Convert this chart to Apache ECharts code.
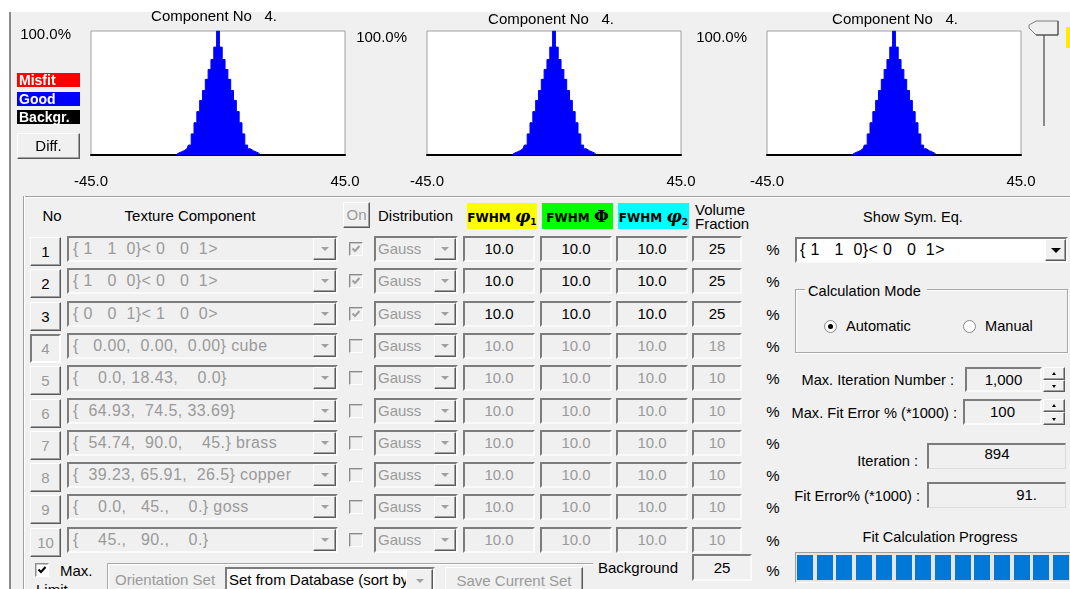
<!DOCTYPE html>
<html><head><meta charset="utf-8">
<script src="https://cdn.jsdelivr.net/npm/echarts/dist/echarts.min.js"></script>
<style>
html,body{margin:0;padding:0;}
body{width:1070px;height:589px;overflow:hidden;background:#f0f0f0;position:relative;font-family:"Liberation Sans",Arial,sans-serif;font-size:15px;color:#000;}
.a{position:absolute;box-sizing:border-box;white-space:pre;}
.sunk{border:2px solid;border-color:#7c7c7c #fafafa #fafafa #7c7c7c;background:#f0f0f0;}
.raised{border:1px solid;border-color:#ffffff #5a5a5a #5a5a5a #ffffff;box-shadow:inset -1px -1px 0 #a0a0a0;background:#f0f0f0;}
.pressed{border:2px solid;border-color:#7c7c7c #ffffff #ffffff #7c7c7c;background:#f0f0f0;}
.gray{color:#9a9a9a;}
.tc{text-align:center;}
.combo{font-size:16px;letter-spacing:0.4px;}
.rp{font-size:14.6px;}
.dd::after{content:"";position:absolute;left:50%;top:50%;margin-left:-4px;margin-top:-2px;border-left:4px solid transparent;border-right:4px solid transparent;border-top:4px solid #a0a0a0;}
.dd.blk::after{border-left-width:5px;border-right-width:5px;border-top:5px solid #000;margin-left:-5px;}
.up::after{content:"";position:absolute;left:50%;top:50%;margin-left:-2px;margin-top:-2px;border-left:2px solid transparent;border-right:2px solid transparent;border-bottom:3px solid #000;}
.dn::after{content:"";position:absolute;left:50%;top:50%;margin-left:-2px;margin-top:-1px;border-left:2px solid transparent;border-right:2px solid transparent;border-top:3px solid #000;}
.cb{border:1px solid;border-color:#8a8a8a #ffffff #ffffff #8a8a8a;box-shadow:inset 1px 1px 0 #c8c8c8;background:#f0f0f0;}
.radio{border-radius:50%;border:1px solid #8a8a8a;background:#fff;}
.fw{font-family:"DejaVu Sans",sans-serif;font-weight:bold;font-size:12px;line-height:26px;text-align:center;}
.fw span{font-family:"DejaVu Serif",serif;font-style:italic;font-size:17px;}
.fw sub{font-size:9px;}
</style></head>
<body>
<div class="a" style="left:0;top:0;width:1070px;height:12px;background:#fff"></div>
<div class="a" style="left:0;top:0;width:9px;height:589px;background:#fff"></div>
<div class="a" style="left:9px;top:12px;width:2px;height:577px;background:#8a8a8a"></div>
<div id="chart" class="a" style="left:0;top:0;width:1070px;height:195px;"></div>
<div id="ui"></div>
<script>
// ---------- chart data ----------
const histAngles = [-15,-14,-13,-12,-11,-10,-9,-8,-7,-6,-5,-4,-3,-2,-1,0,1,2,3,4,5,6,7,8,9,10,11,12,13,14,15];
const histValues = [0,1.5,2.5,3.5,5,8,17,26,35,44,52,61,69,77,87,100,87,77,69,61,52,44,35,26,17,8,5,3.5,2.5,1.5,0];
const panelTitles = ['Component No   4.','Component No   4.','Component No   4.'];
const xTickValues = [-45, 45];
const yTickValues = [100];

// ---------- table data ----------
const compNames = ['{ 1   1  0}< 0   0  1>','{ 1   0  0}< 0   0  1>','{ 0   0  1}< 1   0  0>',
 '{   0.00,  0.00,  0.00} cube','{    0.0, 18.43,    0.0}','{  64.93,  74.5, 33.69}',
 '{  54.74,  90.0,    45.} brass','{  39.23, 65.91,  26.5} copper','{    0.0,   45.,    0.} goss','{    45.,   90.,    0.}'];
const fwhmPhi1 = ['10.0','10.0','10.0','10.0','10.0','10.0','10.0','10.0','10.0','10.0'];
const fwhmPhi  = ['10.0','10.0','10.0','10.0','10.0','10.0','10.0','10.0','10.0','10.0'];
const fwhmPhi2 = ['10.0','10.0','10.0','10.0','10.0','10.0','10.0','10.0','10.0','10.0'];
const volFrac = ['25','25','25','18','10','10','10','10','10','10'];

const FF = '"Liberation Sans", Arial, sans-serif';
const gridLefts = [91, 427, 767];
const titleXs = [214, 551, 895];
const titleYs = [9, 12, 12];
const labelLH = [7, 13, 13];

const chart = echarts.init(document.getElementById('chart'), null, {renderer:'canvas'});
chart.setOption({
  animation:false,
  graphic: panelTitles.map((t,i)=>({type:'text', x:titleXs[i], y:titleYs[i], silent:true,
    style:{text:t, align:'center', verticalAlign:'top', fontSize:15, fontFamily:FF, fill:'#000'}})),
  grid: gridLefts.map(l=>({left:l, top:31, width:254, height:124, show:true, backgroundColor:'#fff', borderColor:'#a0a0a0', borderWidth:1})),
  xAxis: gridLefts.map((l,i)=>({type:'value', gridIndex:i, min:-45, max:45,
    axisLine:{show:true, onZero:false, lineStyle:{color:'#000', width:2}},
    axisTick:{show:false}, splitLine:{show:false},
    axisLabel:{customValues:xTickValues, formatter:v=>v.toFixed(1), margin:19, fontSize:15, fontFamily:FF, color:'#000'}})),
  yAxis: gridLefts.map((l,i)=>({type:'value', gridIndex:i, min:0, max:100,
    axisLine:{show:false}, axisTick:{show:false}, splitLine:{show:false},
    axisLabel:{customValues:yTickValues, formatter:v=>v.toFixed(1)+'%', margin:20, fontSize:15, fontFamily:FF, color:'#000', verticalAlign:'top', lineHeight:labelLH[i]}})),
  series: gridLefts.map((l,i)=>({type:'line', xAxisIndex:i, yAxisIndex:i, step:'middle', symbol:'none', silent:true,
    data: histAngles.map((a,k)=>[a, histValues[k]]),
    lineStyle:{color:'#0000ff', width:1}, areaStyle:{color:'#0000ff', opacity:1}}))
});

// ---------- UI ----------
const ui = document.getElementById('ui');
function el(x,y,w,h,cls,html,style){
  const d=document.createElement('div');
  d.className='a '+(cls||'');
  d.style.left=x+'px'; d.style.top=y+'px';
  if(w!=null) d.style.width=w+'px';
  if(h!=null) d.style.height=h+'px';
  if(html!=null) d.innerHTML=html;
  if(style) d.style.cssText+=';'+style;
  ui.appendChild(d); return d;
}
function txt(x,cy,t,style,cls){ return el(x,cy-10,null,20,cls||'',t,'line-height:20px;'+(style||'')); }
function rtxt(rx,cy,t,style,cls){ return el(rx-300,cy-10,300,20,cls||'',t,'line-height:20px;text-align:right;'+(style||'')); }
function ctxt(cx,cy,t,style,cls){ return el(cx-150,cy-10,300,20,'tc '+(cls||''),t,'line-height:20px;'+(style||'')); }
const checkSvg = c => `<svg width="12" height="12" style="position:absolute;left:0;top:0"><polyline points="2.5,5.5 5,8 9.5,3" fill="none" stroke="${c}" stroke-width="2"/></svg>`;

// legend boxes
el(17,73,63,14,'','Misfit','background:#ff0000;color:#fff;font-weight:bold;font-size:14px;line-height:14px;padding-left:2px');
el(17,92,63,14,'','Good','background:#0000ff;color:#fff;font-weight:bold;font-size:14px;line-height:14px;padding-left:2px');
el(17,110,63,14,'','Backgr.','background:#000;color:#fff;font-weight:bold;font-size:14px;line-height:14px;padding-left:2px');
el(17,133,63,26,'raised tc','Diff.','line-height:24px');

// slider
el(1043,35,2,91,'','', 'background:#8a8a8a');
el(1028,20,31,16,'','<svg width="31" height="16"><polygon points="1,5 8,1 30,1 30,15 8,15 1,8" fill="#f0f0f0" stroke="#7c7c7c" stroke-width="1"/><line x1="30" y1="1" x2="30" y2="15" stroke="#444"/><line x1="8" y1="15" x2="30" y2="15" stroke="#444"/></svg>');
el(1066,27,4,21,'','','background:#ffee00');

// group box
el(23,196,1047,2,'','', 'border-top:1px solid #a0a0a0;border-bottom:1px solid #fff');
el(23,196,2,393,'','', 'border-left:1px solid #a0a0a0;border-right:1px solid #fff');

// headers
ctxt(52,216,'No');
ctxt(190,216,'Texture Component');
el(343,202,27,26,'raised tc gray','On','line-height:24px');
txt(378,216,'Distribution');
el(467,203,70,26,'fw','FWHM <span>φ</span><sub>1</sub>','background:#ffff00');
el(542,203,71,26,'fw','FWHM <span style="font-style:normal">Φ</span>','background:#00ff00');
el(618,203,71,26,'fw','FWHM <span>φ</span><sub>2</sub>','background:#00ffff');
el(695,203,60,30,'','Volume\nFraction','line-height:14px;font-size:15px');

// rows
for(let i=0;i<10;i++){
  const top = Math.round(236 + 32.3*i);
  const en = i<3;
  const gc = en ? '' : 'gray';
  el(30,top+1,31,29, (i===3?'pressed':'raised')+' tc '+(en?'':'gray'), String(i+1), 'line-height:'+(i===3?25:27)+'px');
  el(67,top,271,26,'sunk gray combo',compNames[i],'line-height:22px;padding-left:4px');
  el(313,top+2,23,22,'raised dd','');
  const cb = el(349,top+6,14,14,'cb','');
  if(en) cb.innerHTML = checkSvg('#a0a0a0');
  el(374,top,84,26,'sunk gray','Gauss','line-height:22px;padding-left:2px');
  el(434,top+2,22,22,'raised dd','');
  el(463,top,72,26,'sunk tc '+gc,fwhmPhi1[i],'line-height:22px');
  el(540,top,72,26,'sunk tc '+gc,fwhmPhi[i],'line-height:22px');
  el(616,top,72,26,'sunk tc '+gc,fwhmPhi2[i],'line-height:22px');
  el(692,top,50,26,'sunk tc '+gc,volFrac[i],'line-height:22px');
  ctxt(773,top+14,'%');
}

// right panel
ctxt(913,217,'Show Sym. Eq.','', 'rp');
el(795,237,273,26,'sunk combo',compNames[0],'background:#fff;line-height:22px;padding-left:3px');
el(1045,239,21,22,'raised dd blk','');
el(795,289,273,64,'','', 'border:1px solid #a8a8a8;box-shadow:1px 1px 0 #fff, inset 1px 1px 0 #fff');
el(805,281,122,20,'rp','Calculation Mode','line-height:20px;background:#f0f0f0;padding:0 3px');
el(824,320,13,13,'radio','','');
el(828,324,5,5,'','','border-radius:50%;background:#000');
txt(846,326,'Automatic','', 'rp');
el(963,320,13,13,'radio','','');
txt(985,326,'Manual','', 'rp');
rtxt(954,380,'Max. Iteration Number :','', 'rp');
el(965,367,77,25,'sunk tc','1,000','line-height:21px');
el(1043,367,22,13,'raised up','');
el(1043,380,22,12,'raised dn','');
rtxt(957,413,'Max. Fit Error % (*1000) :','', 'rp');
el(963,399,79,26,'sunk tc','100','line-height:22px');
el(1043,399,22,13,'raised up','');
el(1043,412,22,13,'raised dn','');
rtxt(918,461,'Iteration :','', 'rp');
el(927,443,139,26,'sunk tc','894','line-height:18px;border-width:2px 1px 1px 2px;border-color:#7c7c7c #dcdcdc #dcdcdc #7c7c7c');
rtxt(920,496,'Fit Error% (*1000) :','', 'rp');
el(927,482,139,26,'sunk','91.','line-height:22px;text-align:right;padding-right:28px;border-width:2px 1px 1px 2px;border-color:#7c7c7c #dcdcdc #dcdcdc #7c7c7c');
ctxt(940,537,'Fit Calculation Progress','', 'rp');
el(795,552,280,31,'','', 'border:1px solid;border-color:#a0a0a0 #fff #fff #a0a0a0;background:#e6e6e6');
for(let k=0;k<14;k++) el(Math.round(797+19.7*k),555,16,25,'','','background:#0078d7');

// bottom
const cbm = el(35,563,14,14,'cb','', 'background:#fff');
cbm.innerHTML = checkSvg('#000');
txt(60,571,'Max.');
el(36,580,60,20,'','Limit','line-height:20px');
el(107,563,486,30,'','', 'border-top:1px solid #a8a8a8;border-left:1px solid #a8a8a8;box-shadow:inset 1px 1px 0 #fff');
txt(115,580,'Orientation Set','color:#9a9a9a');
el(225,567,210,30,'sunk','Set from Database (sort by','background:#fafafa;line-height:22px;padding-left:2px');
el(406,569,27,24,'raised dd','');
el(445,567,138,30,'raised tc gray','Save Current Set','line-height:26px');
txt(598,568,'Background');
el(692,554,60,27,'sunk tc','25','line-height:23px');
ctxt(773,571,'%');
</script>
</body></html>
